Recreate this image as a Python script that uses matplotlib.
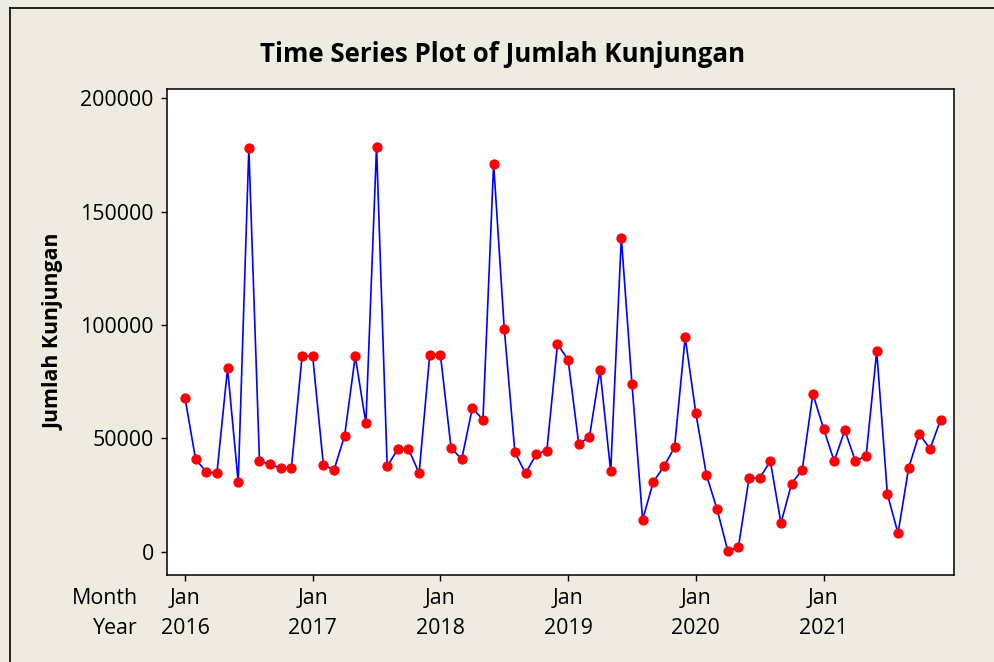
import matplotlib
matplotlib.use("Agg")
import matplotlib.pyplot as plt
from matplotlib.lines import Line2D

# ---- data ----
years = ["2016", "2017", "2018", "2019", "2020", "2021"]
month_label = "Jan"
visits = [
    67900, 40700, 35300, 34600, 80900, 30700, 177900, 40000, 38500, 36900, 36900, 86200,
    86200, 38400, 36000, 51200, 86200, 56600, 178700, 37600, 45300, 45300, 34600, 86900,
    86900, 45900, 40700, 63400, 58200, 171200, 98400, 43800, 34600, 42900, 44600, 91500,
    84700, 47500, 50600, 80100, 35400, 138500, 74100, 14100, 30700, 37600, 46000, 94600,
    61200, 33800, 18700, 440, 1900, 32400, 32400, 40000, 12600, 30000, 36200, 69600,
    54300, 40000, 53500, 40000, 42200, 88400, 25400, 8100, 36900, 52100, 45300, 58100,
]
y_ticks = [0, 50000, 100000, 150000, 200000]
y_tick_labels = ["0", "50000", "100000", "150000", "200000"]
title = "Time Series Plot of Jumlah Kunjungan"
ylabel = "Jumlah Kunjungan"

# ---- style ----
W, H = 994, 662
BG = "#EFEBE1"
FONT = "Open Sans"
plt.rcParams["font.family"] = [FONT, "DejaVu Sans"]
FS = 15.4

fig = plt.figure(figsize=(W / 100, H / 100), dpi=100, facecolor=BG)

def fx(px):
    return px / W

def fy(py):
    return 1 - py / H

ax_l, ax_r, ax_t, ax_b = 167, 954, 89, 575
ax = fig.add_axes([fx(ax_l), fy(ax_b), fx(ax_r - ax_l), (ax_b - ax_t) / H])
ax.set_facecolor("white")

x = list(range(len(visits)))
ax.plot(x, visits, color="#0000FF", lw=1.2, zorder=2)
ax.plot(x, visits, ls="none", marker="o", ms=6.4, mfc="#FF0000", mec="#FF0000", zorder=3)

ax.set_xlim(-1.69, 72.26)
ax.set_ylim(-10280, 204100)

for s in ax.spines.values():
    s.set_linewidth(1.1)
    s.set_color("black")

ax.set_yticks(y_ticks)
ax.set_yticklabels(y_tick_labels)
jan_pos = [i * 12 for i in range(len(years))]
ax.set_xticks(jan_pos)
ax.set_xticklabels([])
ax.tick_params(axis="both", direction="out", length=4.5, width=1.0, color="black")
ax.tick_params(axis="y", labelsize=FS, pad=5)

# x tick label rows
trans = ax.get_xaxis_transform()
h_ax = ax_b - ax_t
for p, yr in zip(jan_pos, years):
    ax.text(p, -(599 - ax_b) / h_ax, month_label, transform=trans, ha="center", va="center",
            fontsize=FS, clip_on=False)
    ax.text(p, -(629 - ax_b) / h_ax, yr, transform=trans, ha="center", va="center",
            fontsize=FS, clip_on=False)
fig.text(fx(138), fy(599), "Month", ha="right", va="center", fontsize=FS)
fig.text(fx(138), fy(629), "Year", ha="right", va="center", fontsize=FS)

fig.text(fx(503), fy(55), title, ha="center", va="center", fontsize=18.6, fontweight="bold")
fig.text(fx(54), fy(332), ylabel, ha="center", va="center", rotation=90,
         fontsize=15.4, fontweight="bold")

# figure border (left and top)
fig.add_artist(Line2D([fx(10), fx(10)], [fy(8), 0], transform=fig.transFigure, color="black", lw=1.2))
fig.add_artist(Line2D([fx(10), 1], [fy(8), fy(8)], transform=fig.transFigure, color="black", lw=1.2))

fig.savefig("out.png", dpi=100, facecolor=BG)
